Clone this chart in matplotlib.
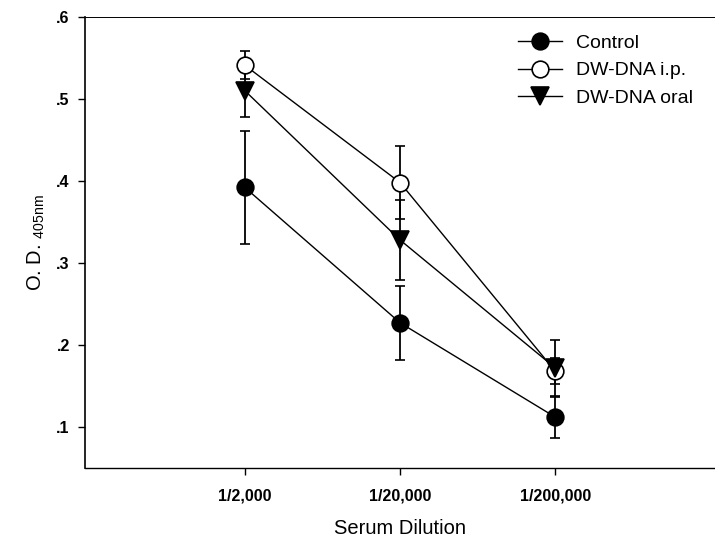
import numpy as np
import matplotlib
matplotlib.use('Agg')
from matplotlib import pyplot as plt
from matplotlib.lines import Line2D

plt.rcParams['font.family'] = ['Liberation Sans', 'DejaVu Sans']

dilutions = ['1/2,000', '1/20,000', '1/200,000']
control = [0.392, 0.227, 0.112]
control_err = [0.069, 0.045, 0.025]
dw_ip = [0.541, 0.398, 0.168]
dw_ip_err = [0.017, 0.045, 0.016]
dw_oral = [0.510, 0.328, 0.172]
dw_oral_err = [0.032, 0.049, 0.034]
y_ticks = [0.1, 0.2, 0.3, 0.4, 0.5, 0.6]

x = np.arange(len(dilutions))

fig = plt.figure(figsize=(7.15, 5.46), dpi=100)
ax = fig.add_axes([0.119, 0.143, 0.881, 0.826])

series = [
    (control, control_err, 'o', 'black', 'Control', 12),
    (dw_ip, dw_ip_err, 'o', 'white', 'DW-DNA i.p.', 12),
    (dw_oral, dw_oral_err, 'v', 'black', 'DW-DNA oral', 13),
]
handles = []
for vals, errs, marker, face, label, ms in series:
    ax.errorbar(x, vals, yerr=errs, color='black', marker=marker, markersize=ms,
                markerfacecolor=face, markeredgecolor='black', markeredgewidth=1.2,
                linewidth=1.0, elinewidth=1.3, capsize=3.5, capthick=1.3)
    handles.append(Line2D([], [], color='black', marker=marker, markersize=ms,
                          markerfacecolor=face, markeredgecolor='black',
                          markeredgewidth=1.2, linewidth=1.0, label=label))

ax.set_xlim(-1.03, 3.03)
ax.set_ylim(0.05, 0.6)
ax.set_xticks(x)
ax.set_xticklabels(dilutions, fontsize=11.5, fontweight='bold')
ax.set_yticks(y_ticks)
ax.set_yticklabels(['.' + str(int(round(v * 10))) for v in y_ticks], fontsize=11.5, fontweight='bold')
ax.tick_params(axis='both', direction='out', length=5, width=1)
ax.tick_params(axis='y', pad=6)
ax.tick_params(axis='x', pad=10)

ax.spines['right'].set_visible(False)
ax.spines['top'].set_linewidth(0.7)
ax.spines['left'].set_linewidth(1.2)
ax.spines['bottom'].set_linewidth(1.0)

ax.set_xlabel('Serum Dilution', fontsize=14.5, labelpad=11)
ax.set_ylabel(r'O. D. $_{\mathregular{405nm}}$', fontsize=14.5, labelpad=7)

ax.legend(handles=handles, loc='upper left', bbox_to_anchor=(0.659, 1.0), frameon=False,
          fontsize=14, handlelength=2.3, handletextpad=0.7, labelspacing=0.5,
          numpoints=1)

fig.savefig('out.png', dpi=100)
